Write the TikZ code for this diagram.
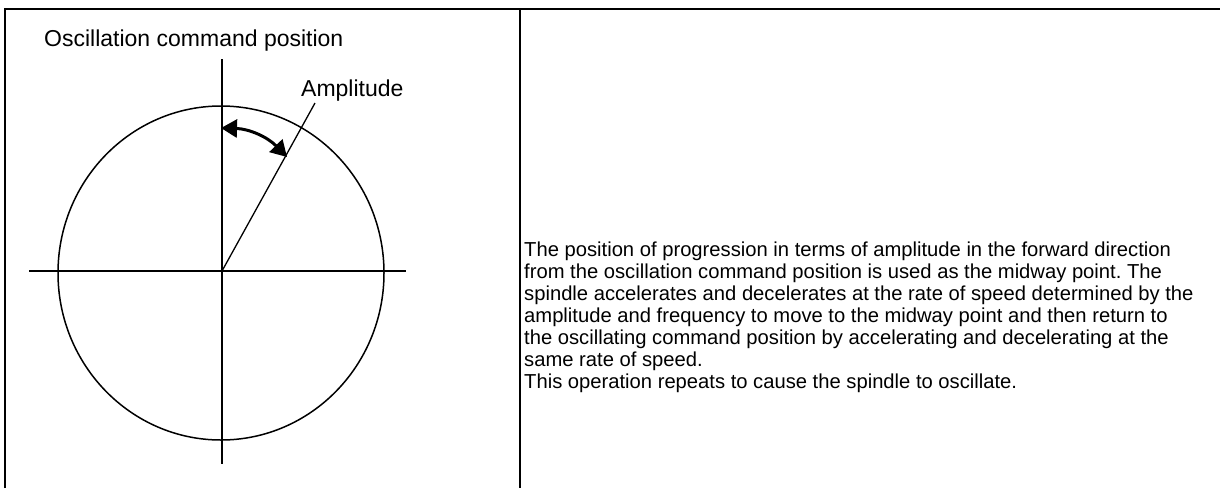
\documentclass[tikz,border=0pt]{standalone}
\usepackage{fontspec}
\setmainfont{Liberation Sans}
\usetikzlibrary{arrows.meta}
\frenchspacing

\begin{document}
\begin{tikzpicture}[x=1pt,y=-1pt]
  % picture size in px of the reference (1px = 1pt, y downwards)
  \useasboundingbox (0,0) rectangle (1220,488);

  % --- table frame ---
  \draw[line width=2pt] (5,488) -- (5,9) -- (1220,9);
  \draw[line width=2pt] (520,9) -- (520,488);

  % --- circle and axes ---
  \coordinate (ctr) at (222,271);
  \draw[line width=1.5pt] (221,273) ellipse [x radius=163, y radius=167];
  \draw[line width=1.3pt] (29,271) -- (406,271);
  \draw[line width=1.3pt] (222,59) -- (222,464);

  % amplitude line (about 61 deg from the horizontal)
  \coordinate (ampend) at (315,103);
  \draw[line width=1.3pt] (ctr) -- (ampend);

  % --- double arrow between the axis and the amplitude line ---
  \coordinate (arrA) at (221,128);
  \coordinate (arrB) at (287,157);
  \draw[line width=3pt,
        {Triangle[length=16pt,width=18pt]}-{Triangle[length=16pt,width=18pt]}]
    (arrA) to[bend left=22] (arrB);

  % --- labels ---
  \node[anchor=base west, inner sep=0, font=\fontsize{23}{27}\selectfont]
    (cmdpos) at (44,46) {Oscillation command position};
  \node[anchor=base west, inner sep=0, font=\fontsize{23}{27}\selectfont]
    (amp) at (301,96) {Amplitude};

  \node[anchor=north west, inner sep=0, align=left,
        font=\fontsize{20.2}{22}\selectfont]
    (desc) at (524,241.5) {%
    The position of progression in terms of amplitude in the forward direction\\
    from the oscillation command position is used as the midway point. The\\
    spindle accelerates and decelerates at the rate of speed determined by the\\
    amplitude and frequency to move to the midway point and then return to\\
    the oscillating command position by accelerating and decelerating at the\\
    same rate of speed.\\
    This operation repeats to cause the spindle to oscillate.};
\end{tikzpicture}
\end{document}
